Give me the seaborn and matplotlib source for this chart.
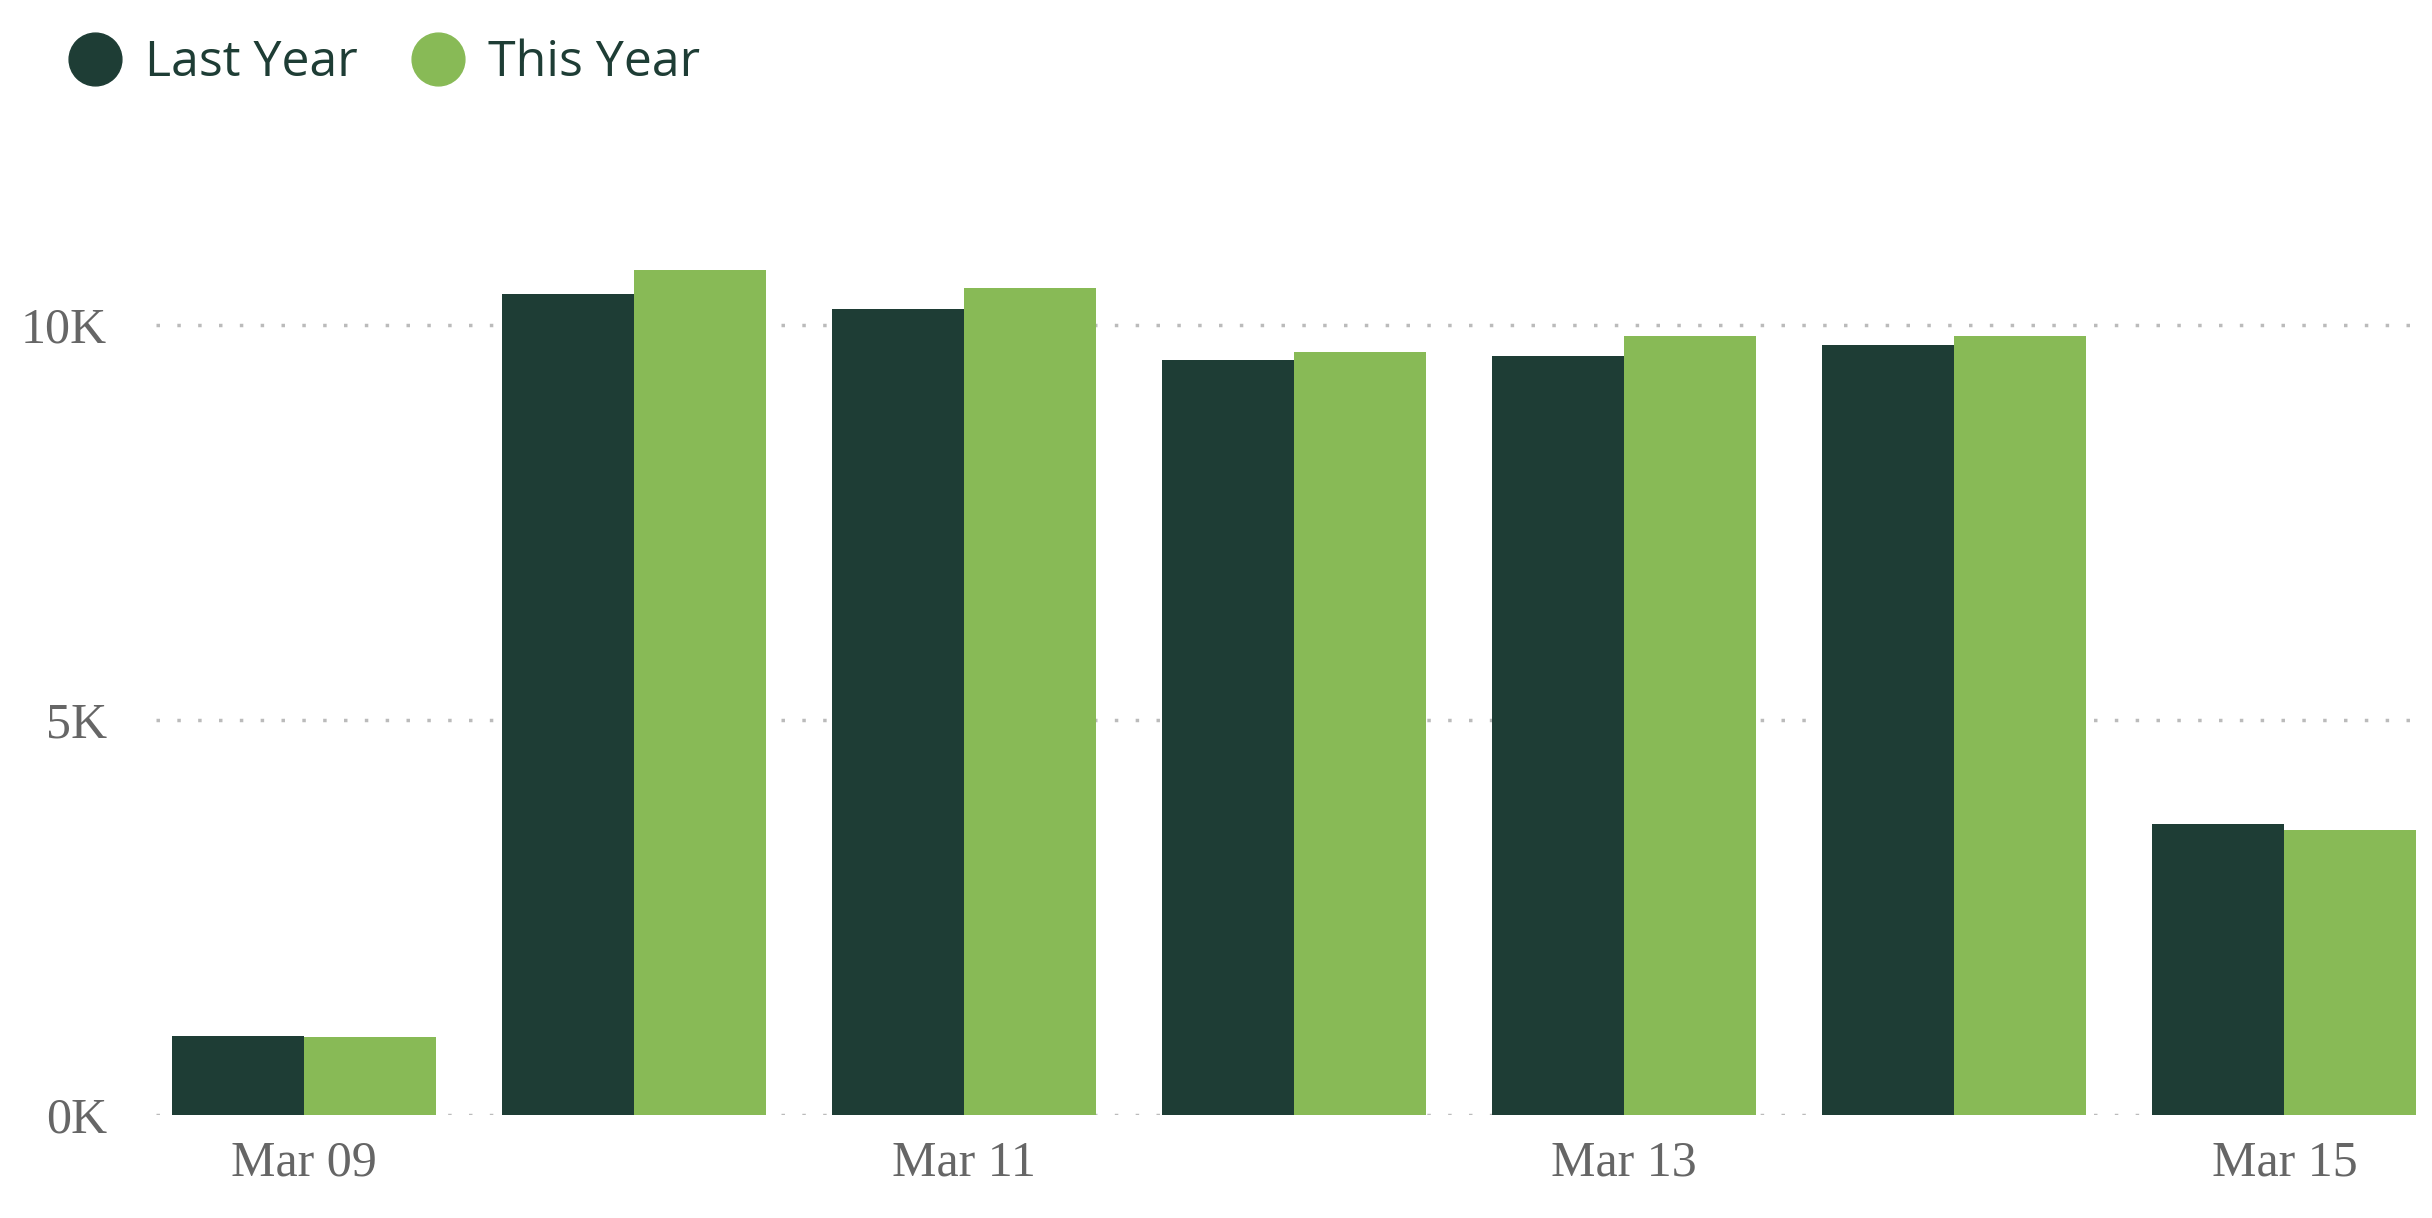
import matplotlib
matplotlib.use("Agg")
import matplotlib.pyplot as plt
import seaborn as sns
import pandas as pd
from matplotlib.lines import Line2D

dates = ["Mar 09", "Mar 10", "Mar 11", "Mar 12", "Mar 13", "Mar 14", "Mar 15"]
last_year = [1000, 10390, 10200, 9550, 9610, 9740, 3690]
this_year = [985, 10690, 10470, 9660, 9860, 9860, 3610]
series = ["Last Year", "This Year"]
colors = ["#1E3D35", "#88BA56"]

df = pd.DataFrame({
    "date": dates * 2,
    "value": last_year + this_year,
    "series": [series[0]] * len(dates) + [series[1]] * len(dates),
})

sns.set_style("white")
fig = plt.figure(figsize=(24.32, 12.18), dpi=100)
ax = fig.add_axes([0.064, 0.0845, 0.9296, 0.7785])
sns.barplot(data=df, x="date", y="value", hue="series", palette=colors,
            width=0.8, saturation=1, ax=ax, legend=False, zorder=3)
for p in ax.patches:
    p.set_edgecolor("none")
ax.set_xlim(-0.45, 6.4)
ax.set_ylim(0, 12000)
ax.set_yticks([0, 5000, 10000])
ax.set_yticklabels(["0K", "5K", "10K"])
ax.set_xticks(range(len(dates)))
ax.set_xticklabels([d if i % 2 == 0 else "" for i, d in enumerate(dates)])
for y in [0, 5000, 10000]:
    ax.axhline(y, color="#BBBBBB", linestyle=(0, (1, 5)), linewidth=2.5, zorder=1)
for s in ax.spines.values():
    s.set_visible(False)
ax.set_xlabel("")
ax.set_ylabel("")
ax.tick_params(axis="both", length=0, labelsize=36, labelcolor="#666666")
ax.tick_params(axis="y", pad=35)
ax.tick_params(axis="x", pad=18)
for t in ax.get_xticklabels() + ax.get_yticklabels():
    t.set_family("Liberation Serif")

handles = [Line2D([], [], marker="o", linestyle="none", markersize=38,
                  markerfacecolor=c, markeredgecolor=c) for c in colors]
fig.legend(handles, series, loc="upper left", bbox_to_anchor=(0.0, 1.005),
           ncol=2, frameon=False, handletextpad=0.0, columnspacing=0.6,
           prop={"family": "Open Sans", "size": 36}, labelcolor="#1E3D35")
fig.savefig("out.png", dpi=100)
